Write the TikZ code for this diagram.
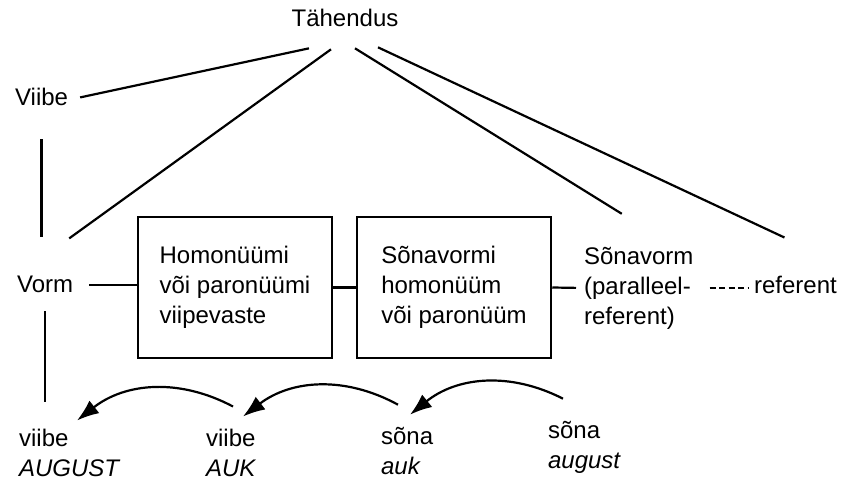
\documentclass[tikz,border=0pt]{standalone}
\usepackage{fontspec}
\setmainfont{Liberation Sans}
\usetikzlibrary{arrows.meta,positioning}

\begin{document}
\begin{tikzpicture}[x=1pt,y=1pt,line width=2.2pt,
	word/.style={inner sep=0pt,font=\fontsize{24}{30}\selectfont},
	boxnode/.style={word,draw,line width=2.5pt,align=left,minimum width=194pt,minimum height=141pt},
	jump/.style={-{Latex[length=22pt,width=16pt]},bend right=33}]
	\useasboundingbox (0,0) rectangle (843,-486);

	\node[word, anchor=base]       (tah)   at (345,-27)  {Tähendus};
	\node[word, anchor=base west]  (viibe) at (14,-106)  {Viibe};
	\node[word, anchor=base west]  (vorm)  at (16,-293)  {Vorm};
	\node[boxnode]                 (hom)   at (235,-287.5) {Homonüümi\\või paronüümi\\viipevaste};
	\node[boxnode, right=22.5pt of hom] (svh) {Sõnavormi\\homonüüm\\või paronüüm};
	\node[word, align=left, anchor=west] (sonav) at (583,-288) {Sõnavorm\\(paralleel-\\referent)};
	\node[word, anchor=base west]  (ref)   at (753,-294) {referent};

	% alumine rida (base = viimase rea alusjoon)
	\node[word, align=left, anchor=base west] (vaug) at (18,-476)  {viibe\\\textit{AUGUST}};
	\node[word, align=left, anchor=base west] (vauk) at (205,-476) {viibe\\\textit{AUK}};
	\node[word, align=left, anchor=base west] (sauk) at (380,-474) {sõna\\\textit{auk}};
	\node[word, align=left, anchor=base west] (saug) at (547,-468) {sõna\\\textit{august}};

	\draw
		([shift={(-36,-20)}]tah.south) edge ([shift={(11,0)}]viibe.east)
		([shift={(-14,-21)}]tah.south) edge ([shift={(-5,37)}]vorm.north east)
		([shift={(10,-20)}]tah.south)  edge ([shift={(-17,32)}]sonav.north)
		([shift={(33,-19)}]tah.south)  edge ([shift={(-11,38)}]ref.north);

	\draw[shorten <=32pt, shorten >=38pt] (viibe.south) -- (viibe.south |- vorm.north);
	\draw[shorten <=17pt, shorten >=26pt] (vorm.south) -- (vorm.south |- vaug.north);
	\draw[shorten <=15pt] (vorm.east) -- (vorm.east -| hom.west);
	\draw (hom) -- (svh);
	\draw[shorten >=7pt] (svh.east) -- (sonav.west);
	\draw[line width=2pt, dash pattern=on 6pt off 3.5pt, shorten <=15pt, shorten >=5pt] (sonav.east) -- (sonav.east -| ref.west);

	\draw[jump] ([shift={(28,21)}]vauk.north west) to ([shift={(59,7)}]vaug.north west);
	\draw[jump] ([shift={(18,21)}]sauk.north west) to ([shift={(38,11)}]vauk.north west);
	\draw[jump] ([shift={(16,21)}]saug.north west) to ([shift={(30,11)}]sauk.north west);
\end{tikzpicture}
\end{document}
